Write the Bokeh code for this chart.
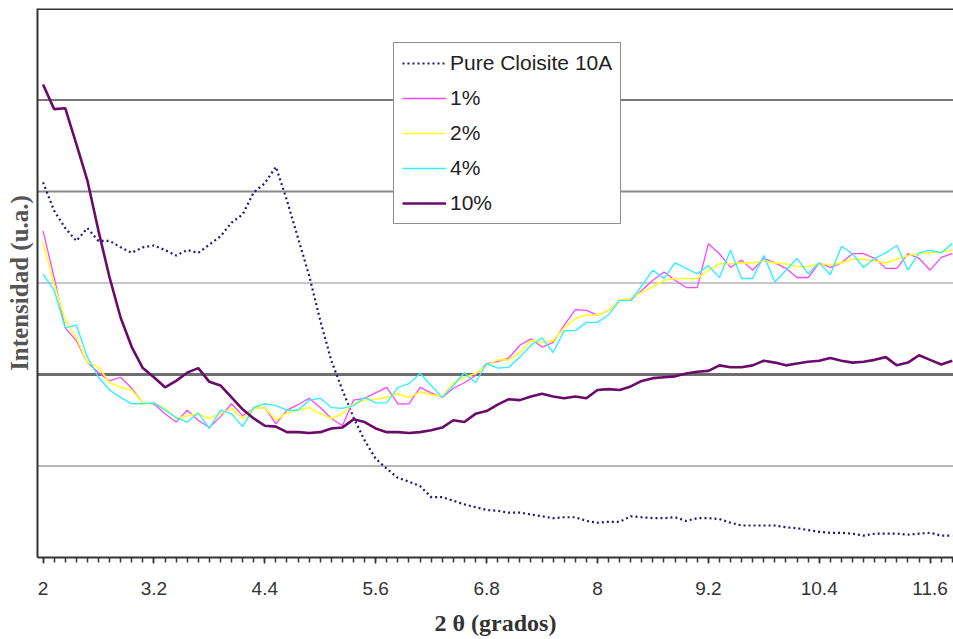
from bokeh.plotting import figure
from bokeh.models import FixedTicker, Span, Legend, LegendItem, Range1d, NumeralTickFormatter
from bokeh.embed import file_html
from bokeh.resources import INLINE

# category axis: 2θ in steps of 0.12 degrees
two_theta = [round(2 + 0.12 * i, 2) for i in range(83)]
tick_values = [2, 3.2, 4.4, 5.6, 6.8, 8, 9.2, 10.4, 11.6]
grid_levels = [100, 200, 300, 400, 500]
y_top = 600

pure_cloisite = [410, 379, 360, 346, 360, 346, 346, 339, 333, 339, 341, 336, 330, 336, 333, 342, 351, 366, 375, 399,
                 409, 427, 390, 349, 308, 259, 215, 183, 153, 128, 108, 97, 87, 83, 78,
                 66, 66, 62, 58, 55, 52, 51, 49, 49, 47, 45, 43, 44, 44, 40, 38, 39,
                 39, 45, 44, 43, 43, 44, 40, 43, 43, 42, 38, 35, 35, 35, 35, 33, 32, 30, 28, 27, 27, 26,
                 24, 26, 26, 26, 25, 26, 27, 24, 24]
pct1 = [357, 306, 251, 237, 213, 202, 193, 197, 185, 169, 168, 157, 148, 161, 150, 142, 154, 168, 155, 163,
        164, 146, 161, 167, 174, 164, 152, 144, 172, 174, 180, 186, 168, 168, 186,
        180, 175, 185, 191, 199, 212, 214, 218, 232, 239, 230, 235, 254, 271, 270, 265, 270,
        281, 281, 292, 303, 312, 303, 295, 295, 343, 332, 317, 325, 314, 327, 322, 316, 306, 306,
        322, 317, 322, 332, 332, 327, 316, 316, 332, 327, 314, 328, 332]
pct2 = [344, 299, 259, 240, 213, 208, 191, 186, 183, 169, 169, 163, 152, 155, 157, 152, 157, 163, 152, 163,
        164, 150, 158, 161, 164, 157, 152, 157, 168, 172, 173, 175, 179, 175, 181,
        178, 176, 191, 197, 201, 210, 216, 216, 224, 237, 235, 237, 251, 261, 265, 265, 270,
        281, 283, 290, 296, 303, 305, 305, 305, 314, 321, 321, 322, 322, 324,
        322, 321, 318, 318, 321, 320, 322, 326, 326, 324, 322, 326, 330, 332, 333, 334, 336]
pct4 = [310, 292, 251, 254, 219, 197, 183, 175, 168, 168, 169, 161, 153, 148, 158, 141, 161, 157, 143, 164,
        168, 166, 161, 161, 172, 174, 164, 163, 166, 175, 169, 169, 186, 190, 201,
        188, 175, 188, 202, 191, 212, 207, 208, 219, 232, 240, 224, 248, 248, 257, 257, 265,
        281, 281, 297, 314, 305, 322, 316, 310, 319, 306, 336, 305, 305, 330, 301, 314, 327, 310,
        322, 309, 340, 332, 317, 327, 333, 341, 314, 333, 336, 333, 343]
pct10 = [517, 490, 491, 452, 412, 357, 306, 262, 230, 207, 197, 186, 193, 202, 207, 192, 188, 175, 162, 152,
         144, 143, 137, 137, 136, 137, 141, 142, 151, 148, 141, 137, 137, 136, 137,
         139, 142, 150, 148, 157, 160, 167, 173, 172, 176, 179, 176, 174, 176, 174, 183, 184,
         183, 187, 193, 196, 197, 198, 201, 203, 204, 210, 208, 208, 210, 215, 213, 210, 212, 214,
         215, 218, 215, 213, 214, 216, 219, 210, 213, 221, 216, 211, 215]

p = figure(width=953, height=639, output_backend="svg", toolbar_location=None,
           x_range=Range1d(1.94, 11.853), y_range=Range1d(0, y_top),
           min_border_left=37, min_border_right=0, min_border_top=8, min_border_bottom=82)
p.background_fill_color = "white"
p.border_fill_color = "white"
p.outline_line_color = None
p.xgrid.grid_line_color = None
p.ygrid.grid_line_color = None

grid_styles = {100: ("#6e6e6e", 1.2), 200: ("#6e6e6e", 3.2), 300: ("#b5b5b5", 1.5),
               400: ("#8a8a8a", 2.0), 500: ("#4a4a4a", 1.5)}
for g in grid_levels:
    c, w = grid_styles[g]
    p.add_layout(Span(location=g, dimension="width", line_color=c, line_width=w, level="underlay"))
# top border of the plot area
p.add_layout(Span(location=y_top, dimension="width", line_color="#333333", line_width=3, level="underlay"))

r_pure = p.line(two_theta, pure_cloisite, line_color="#1b1b7a", line_width=2.2, line_dash="2 3")
r1 = p.line(two_theta, pct1, line_color="#ff44ff", line_width=1.3)
r2 = p.line(two_theta, pct2, line_color="#ffff22", line_width=1.6)
r4 = p.line(two_theta, pct4, line_color="#33f0ff", line_width=1.4)
r10 = p.line(two_theta, pct10, line_color="#6a0a6a", line_width=2.6)

# x axis
xa = p.xaxis[0]
xa.ticker = FixedTicker(ticks=tick_values, minor_ticks=two_theta)
xa.formatter = NumeralTickFormatter(format="0.[0]")
xa.axis_line_color = "#333333"
xa.axis_line_width = 2
xa.major_tick_line_color = "#333333"
xa.major_tick_line_width = 1.5
xa.minor_tick_line_color = "#333333"
xa.minor_tick_line_width = 1.5
xa.major_tick_in = 0
xa.major_tick_out = 6
xa.minor_tick_in = 0
xa.minor_tick_out = 5
xa.major_label_standoff = 18
xa.major_label_text_font = "Liberation Sans"
xa.major_label_text_font_size = "19px"
xa.major_label_text_color = "#333333"
xa.axis_label = "2 θ (grados)"
xa.axis_label_text_font = "Liberation Serif"
xa.axis_label_text_font_style = "bold"
xa.axis_label_text_font_size = "24px"
xa.axis_label_text_color = "#333333"
xa.axis_label_standoff = 12

# y axis
ya = p.yaxis[0]
ya.ticker = FixedTicker(ticks=[])
ya.axis_line_color = "#333333"
ya.axis_line_width = 2
ya.major_tick_out = 0
ya.major_tick_in = 0
ya.minor_tick_out = 0
ya.minor_tick_in = 0
ya.major_label_standoff = 0
ya.axis_label = "Intensidad (u.a.)"
ya.axis_label_text_font = "Liberation Serif"
ya.axis_label_text_font_style = "bold"
ya.axis_label_text_font_size = "25px"
ya.axis_label_text_color = "#555555"
ya.axis_label_standoff = 5

legend = Legend(items=[
    LegendItem(label="Pure Cloisite 10A", renderers=[r_pure]),
    LegendItem(label="1%", renderers=[r1]),
    LegendItem(label="2%", renderers=[r2]),
    LegendItem(label="4%", renderers=[r4]),
    LegendItem(label="10%", renderers=[r10]),
], location=(356, 333))
legend.border_line_color = "#222222"
legend.border_line_width = 1.5
legend.background_fill_color = "white"
legend.background_fill_alpha = 1.0
legend.padding = 8
legend.margin = 0
legend.spacing = 11
legend.glyph_width = 44
legend.glyph_height = 20
legend.label_height = 20
legend.label_standoff = 4
legend.label_text_font = "Liberation Sans"
legend.label_text_font_size = "21px"
legend.label_text_color = "#222222"
p.add_layout(legend, "center")

open("out.html", "w").write(file_html(p, INLINE))
